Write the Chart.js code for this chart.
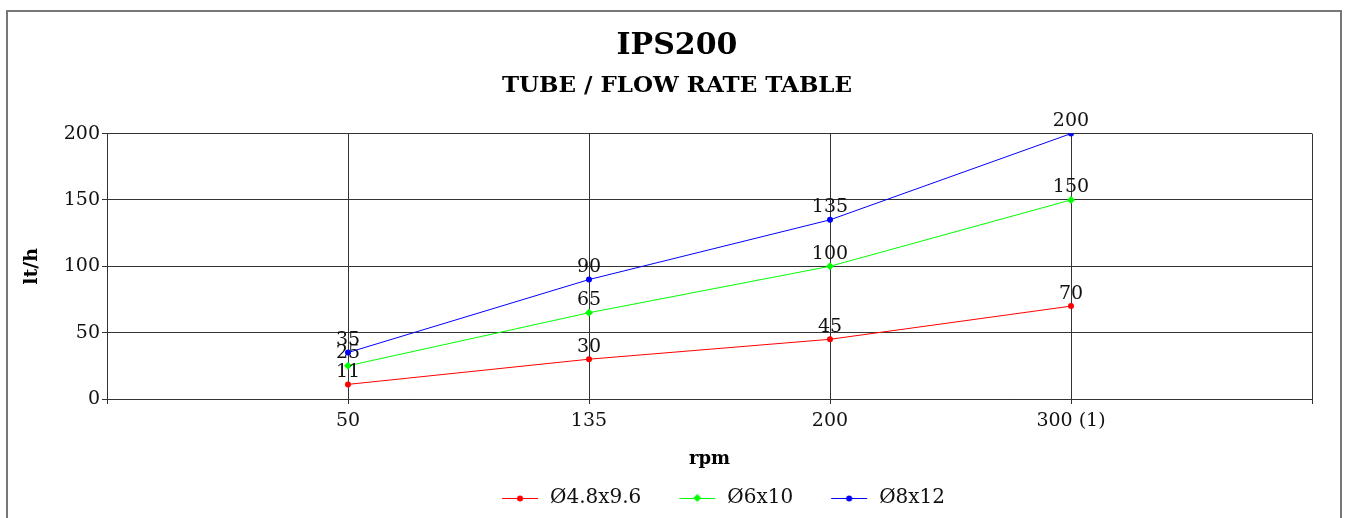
<!DOCTYPE html>
<html><head><meta charset="utf-8">
<script src="https://cdn.jsdelivr.net/npm/chart.js@4"></script>
<style>html,body{margin:0;padding:0;background:#fff;}#wrap{width:1354px;height:518px;position:relative;}</style>
</head><body><div id="wrap"><canvas id="c"></canvas></div>
<script>
const categories = ['50', '135', '200', '300 (1)'];
const seriesNames = ['Ø4.8x9.6', 'Ø6x10', 'Ø8x12'];
const tube48 = [11, 30, 45, 70];
const tube6 = [25, 65, 100, 150];
const tube8 = [35, 90, 135, 200];
const yTicks = [0, 50, 100, 150, 200];
const colors = ['#ff0000', '#00ff00', '#0000ff'];
const markers = ['circle', 'rectRot', 'circle'];

const SERIF = '"DejaVu Serif", serif';
const labels = [''].concat(categories, ['']);
const seriesValues = [tube48, tube6, tube8];

// legend icon: short line with the marker in the middle, right-aligned inside its box
const LEAD = 28;
const ICON_BOX = LEAD + 38;
function legendIcon(color, style) {
  const c = document.createElement('canvas');
  c.width = ICON_BOX; c.height = 10;
  const x = c.getContext('2d');
  x.strokeStyle = color; x.lineWidth = 1;
  x.beginPath(); x.moveTo(LEAD, 5.5); x.lineTo(LEAD + 36, 5.5); x.stroke();
  x.fillStyle = color;
  const cx = LEAD + 18;
  x.beginPath();
  if (style === 'rectRot') { x.moveTo(cx, 1); x.lineTo(cx + 4, 5); x.lineTo(cx, 9); x.lineTo(cx - 4, 5); x.closePath(); }
  else { x.arc(cx, 5.5, 3, 0, Math.PI * 2); }
  x.fill();
  return c;
}
const icons = colors.map((c, i) => legendIcon(c, markers[i]));

const frame = {
  id: 'frame',
  beforeDraw(chart) {
    const ctx = chart.ctx; ctx.save();
    ctx.strokeStyle = '#777'; ctx.lineWidth = 2;
    ctx.strokeRect(7, 11, 1334, 530);
    ctx.restore();
  }
};
const valueLabels = {
  id: 'valueLabels',
  afterDatasetsDraw(chart) {
    const ctx = chart.ctx; ctx.save();
    ctx.font = '19px ' + SERIF; ctx.fillStyle = '#111';
    ctx.textAlign = 'center'; ctx.textBaseline = 'bottom';
    chart.data.datasets.forEach((ds, i) => {
      chart.getDatasetMeta(i).data.forEach((pt, j) => {
        const v = ds.data[j];
        if (v == null) return;
        ctx.fillText(String(v), pt.x, pt.y - 3);
      });
    });
    ctx.restore();
  }
};

new Chart(document.getElementById('c'), {
  type: 'line',
  data: {
    labels: labels,
    datasets: seriesValues.map((vals, i) => ({
      label: seriesNames[i],
      data: [null].concat(vals, [null]),
      borderColor: colors[i],
      backgroundColor: colors[i],
      borderWidth: 1,
      pointStyle: markers[i],
      pointRadius: markers[i] === 'rectRot' ? 4 : 3,
      pointBorderWidth: 0,
      tension: 0,
      fill: false
    }))
  },
  options: {
    responsive: true,
    maintainAspectRatio: false,
    animation: false,
    layout: { padding: { left: 0, right: 0, top: 0, bottom: 0 } },
    plugins: {
      tooltip: { enabled: false },
      title: {
        display: true, text: 'IPS200', color: '#000',
        font: { family: SERIF, size: 30, weight: 'bold' },
        padding: { top: 28, bottom: 4 }
      },
      subtitle: {
        display: true, text: 'TUBE / FLOW RATE TABLE', color: '#000',
        font: { family: SERIF, size: 23, weight: 'bold' },
        padding: { top: 4, bottom: 34 }
      },
      legend: {
        position: 'bottom',
        fullSize: false,
        labels: {
          usePointStyle: true,
          pointStyleWidth: ICON_BOX,
          padding: 10,
          color: '#111',
          font: { family: SERIF, size: 20 },
          generateLabels(chart) {
            const items = Chart.defaults.plugins.legend.labels.generateLabels(chart);
            items.forEach((it, i) => { it.pointStyle = icons[i]; });
            return items;
          }
        }
      }
    },
    scales: {
      x: {
        type: 'category',
        offset: false,
        grid: { color: '#333', lineWidth: 1, tickLength: 5, drawOnChartArea: true },
        border: { color: '#333', width: 1 },
        ticks: { color: '#111', font: { family: SERIF, size: 19 }, padding: 6, autoSkip: false, maxRotation: 0 },
        title: { display: true, text: 'rpm', color: '#000', font: { family: SERIF, size: 18, weight: 'bold' }, padding: { top: 4, bottom: 8 } },
        afterFit(s) { s.height = 79; }
      },
      y: {
        min: 0, max: 200,
        afterBuildTicks(s) { s.ticks = yTicks.map(v => ({ value: v })); },
        grid: { color: '#333', lineWidth: 1, tickLength: 5 },
        border: { color: '#333', width: 1 },
        ticks: { color: '#111', font: { family: SERIF, size: 19 }, padding: 2 },
        title: { display: true, text: 'lt/h', color: '#000', font: { family: SERIF, size: 19, weight: 'bold' }, padding: { top: 21, bottom: 0 } },
        afterFit(s) { s.width = 107; }
      },
      yRight: {
        position: 'right',
        min: 0, max: 200,
        grid: { display: false, drawOnChartArea: false },
        border: { display: false },
        ticks: { display: false },
        afterFit(s) { s.width = 42; }
      }
    }
  },
  plugins: [frame, valueLabels]
});
</script>
</body></html>
